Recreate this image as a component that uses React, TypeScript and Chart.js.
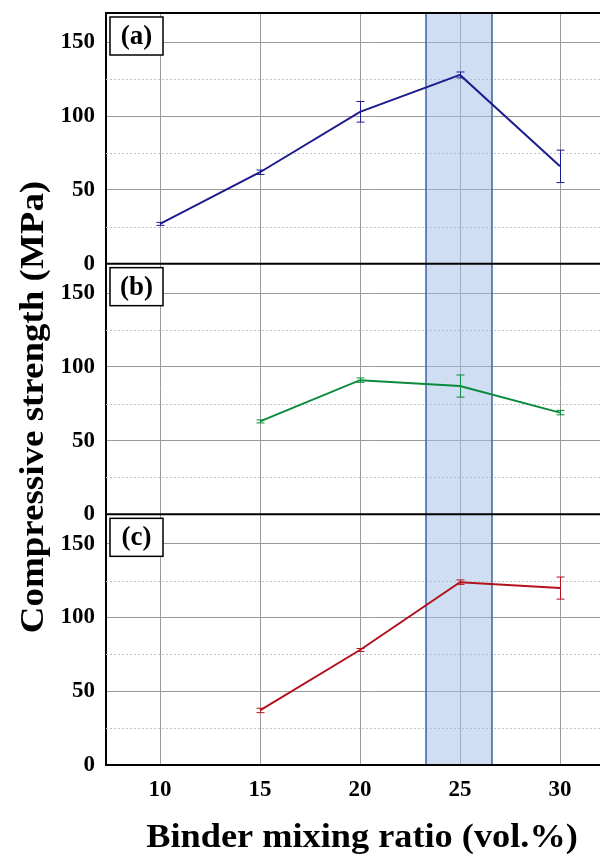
import React, { useEffect, useRef } from "react";
import { Chart, registerables } from "chart.js";

Chart.register(...registerables);

const xValues = [10, 15, 20, 25, 30];
const xTicks = [10, 15, 20, 25, 30];
const yTicks = [0, 50, 100, 150];
const yMinorTicks = [25, 75, 125];

const seriesA = [27, 62, 103, 128, 66];
const errA = [1, 1.5, 7, 2, 11];
const seriesB = [null, 63, 91, 87, 69];
const errB = [0, 1, 1.5, 7.5, 1.5];
const seriesC = [null, 37, 78, 124, 120];
const errC = [0, 1.5, 1, 1.5, 7.5];

const panelLabels = ["(a)", "(b)", "(c)"];
const bandRange = [23.3, 26.6];
const xTitle = "Binder mixing ratio (vol.%)";
const yTitle = "Compressive strength (MPa)";

const FONT = '"Liberation Serif", "Times New Roman", serif';

function pts(vals: (number | null)[]) {
  const out: { x: number; y: number }[] = [];
  vals.forEach((v, i) => {
    if (v !== null) out.push({ x: xValues[i], y: v });
  });
  return out;
}

const yAxis = () => ({
  type: "linear" as const,
  position: "left" as const,
  stack: "panels",
  stackWeight: 1,
  min: 0,
  max: 170,
  afterFit: (s: any) => {
    s.width = 106;
    s.paddingTop = 0;
    s.paddingBottom = 0;
  },
  afterBuildTicks: (s: any) => {
    s.ticks = yTicks.map((v) => ({ value: v }));
  },
  ticks: {
    autoSkip: false,
    padding: 11,
    color: "#000",
    font: { family: FONT, size: 23, weight: "bold" as const },
  },
  grid: { color: "#9a9a9a", lineWidth: 1, drawTicks: false },
  border: { color: "#000", width: 2 },
});

export default function App() {
  const ref = useRef<HTMLCanvasElement | null>(null);

  useEffect(() => {
    if (!ref.current) return;
    const axisIds = ["ya", "yb", "yc"];
    const errs = [errA, errB, errC];
    const series = [seriesA, seriesB, seriesC];

    const decor = {
      id: "decor",
      beforeDatasetsDraw(chart: any) {
        const ctx = chart.ctx;
        const area = chart.chartArea;
        const xs = chart.scales.x;
        ctx.save();
        ctx.strokeStyle = "#c4c4c4";
        ctx.lineWidth = 1;
        ctx.setLineDash([2, 2]);
        axisIds.forEach((id) => {
          const s = chart.scales[id];
          yMinorTicks.forEach((v) => {
            const y = Math.round(s.getPixelForValue(v)) + 0.5;
            ctx.beginPath();
            ctx.moveTo(area.left, y);
            ctx.lineTo(area.right, y);
            ctx.stroke();
          });
        });
        ctx.restore();
        const x0 = xs.getPixelForValue(bandRange[0]);
        const x1 = xs.getPixelForValue(bandRange[1]);
        ctx.save();
        ctx.fillStyle = "rgba(160,190,230,0.5)";
        ctx.fillRect(x0, area.top, x1 - x0, area.bottom - area.top);
        ctx.strokeStyle = "#3d64a6";
        ctx.lineWidth = 1.5;
        ctx.beginPath();
        ctx.moveTo(x0, area.top);
        ctx.lineTo(x0, area.bottom);
        ctx.moveTo(x1, area.top);
        ctx.lineTo(x1, area.bottom);
        ctx.stroke();
        ctx.restore();
      },
      afterDatasetsDraw(chart: any) {
        const ctx = chart.ctx;
        const area = chart.chartArea;
        const xs = chart.scales.x;
        chart.data.datasets.forEach((ds: any, di: number) => {
          const s = chart.scales[axisIds[di]];
          ctx.save();
          ctx.strokeStyle = ds.borderColor;
          ctx.lineWidth = 1;
          series[di].forEach((v, i) => {
            if (v === null) return;
            const e = errs[di][i];
            if (!e) return;
            const x = Math.round(xs.getPixelForValue(xValues[i])) + 0.5;
            const yt = s.getPixelForValue(v + e);
            const yb = s.getPixelForValue(v - e);
            ctx.beginPath();
            ctx.moveTo(x, yt);
            ctx.lineTo(x, yb);
            ctx.moveTo(x - 4, yt);
            ctx.lineTo(x + 4, yt);
            ctx.moveTo(x - 4, yb);
            ctx.lineTo(x + 4, yb);
            ctx.stroke();
          });
          ctx.restore();
        });
        ctx.save();
        ctx.strokeStyle = "#000";
        ctx.lineWidth = 2;
        const ys = [area.top];
        axisIds.forEach((id) => ys.push(chart.scales[id].bottom));
        ys.forEach((y) => {
          ctx.beginPath();
          ctx.moveTo(area.left - 1, y);
          ctx.lineTo(area.right, y);
          ctx.stroke();
        });
        ctx.restore();
        axisIds.forEach((id, i) => {
          const s = chart.scales[id];
          const bx = area.left + 4;
          const by = s.top + 4;
          const bw = 53;
          const bh = 38;
          ctx.save();
          ctx.fillStyle = "#fff";
          ctx.fillRect(bx, by, bw, bh);
          ctx.strokeStyle = "#000";
          ctx.lineWidth = 1.5;
          ctx.strokeRect(bx, by, bw, bh);
          ctx.fillStyle = "#000";
          ctx.font = `bold 27px ${FONT}`;
          ctx.textAlign = "center";
          ctx.textBaseline = "middle";
          ctx.fillText(panelLabels[i], bx + bw / 2, by + bh / 2 + 1);
          ctx.restore();
        });
        ctx.save();
        ctx.fillStyle = "#000";
        ctx.font = `bold 33px ${FONT}`;
        ctx.textAlign = "center";
        ctx.textBaseline = "alphabetic";
        ctx.save();
        ctx.translate(362, 847);
        ctx.scale(1.1, 1);
        ctx.fillText(xTitle, 0, 0);
        ctx.restore();
        ctx.translate(43, 407);
        ctx.rotate(-Math.PI / 2);
        ctx.scale(1.12, 1);
        ctx.fillText(yTitle, 0, 0);
        ctx.restore();
      },
    };

    const chart = new Chart(ref.current, {
      type: "line",
      data: {
        datasets: [
          {
            label: "a",
            data: pts(seriesA),
            yAxisID: "ya",
            borderColor: "#1c1c8e",
            borderWidth: 2,
            pointRadius: 0,
          },
          {
            label: "b",
            data: pts(seriesB),
            yAxisID: "yb",
            borderColor: "#0a8a3a",
            borderWidth: 2,
            pointRadius: 0,
          },
          {
            label: "c",
            data: pts(seriesC),
            yAxisID: "yc",
            borderColor: "#b3121c",
            borderWidth: 2,
            pointRadius: 0,
          },
        ],
      },
      options: {
        responsive: false,
        animation: false,
        devicePixelRatio: 1,
        layout: { padding: { top: 13, left: 0, right: 0, bottom: 0 } },
        plugins: { legend: { display: false }, tooltip: { enabled: false } },
        scales: {
          x: {
            type: "linear",
            min: 7.3,
            max: 34,
            afterFit: (s: any) => {
              s.height = 90;
              s.paddingLeft = 0;
              s.paddingRight = 0;
            },
            afterBuildTicks: (s: any) => {
              s.ticks = xTicks.map((v) => ({ value: v }));
            },
            ticks: {
              autoSkip: false,
              maxRotation: 0,
              padding: 11,
              color: "#000",
              font: { family: FONT, size: 23, weight: "bold" },
            },
            grid: { color: "#9a9a9a", lineWidth: 1, drawTicks: false },
            border: { color: "#000", width: 2 },
          },
          yc: yAxis(),
          yb: yAxis(),
          ya: yAxis(),
        } as any,
      },
      plugins: [decor],
    });
    return () => chart.destroy();
  }, []);

  return (
    <div
      style={{
        position: "absolute",
        left: 0,
        top: 0,
        width: 600,
        height: 855,
        overflow: "hidden",
        background: "#fff",
      }}
    >
      <canvas
        ref={ref}
        width={640}
        height={855}
        style={{ width: 640, height: 855, display: "block" }}
      />
    </div>
  );
}
